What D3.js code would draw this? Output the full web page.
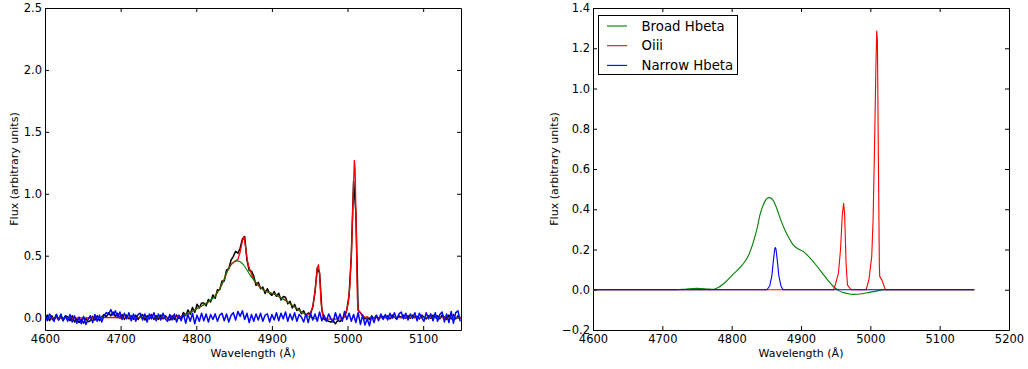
<!DOCTYPE html>
<meta charset="utf-8">
<style>
	body { margin: 0; background: #fff; }
	svg text { font-family: "DejaVu Sans", sans-serif; }
</style>
<svg width="1028" height="369"></svg>
<script src="https://d3js.org/d3.v7.min.js"></script>
<script>
	// sampling grid of the observed spectrum (Angstrom)
	var gridWave = d3.range(4600, 5150, 3);

	// left panel: observed flux (black) and residual (blue), one value per grid point
	var observed = [
		-0.01, 0.02, -0.025, 0.015, -0.015, 0.025, -0.02, 0.01, -0.025, 0.015,
		0.005, -0.025, 0.015, -0.035, -0.01, -0.04, -0.015, -0.045, -0.005, -0.035,
		-0.025, 0.01, -0.02, 0.015, -0.025, 0.005, 0.025, 0.005, 0.04, 0.015,
		0.045, 0.01, 0.035, -0.005, 0.025, -0.015, 0.02, -0.01, 0.015, -0.015,
		0.02, -0.015, 0.01, 0.025, -0.02, 0.015, -0.01, 0.025, -0.015, 0.015,
		-0.015, 0.02, -0.01, 0.015, -0.005, -0.02, 0.015, -0.015, 0.02, -0.005,
		-0.005, 0.042, 0.015, 0.062, 0.027, 0.082, 0.042, 0.108, 0.078, 0.118,
		0.119, 0.095, 0.147, 0.127, 0.183, 0.155, 0.225, 0.225, 0.295, 0.295,
		0.385, 0.395, 0.465, 0.495, 0.535, 0.52, 0.56, 0.635, 0.655, 0.465,
		0.38, 0.375, 0.335, 0.26, 0.285, 0.233, 0.247, 0.195, 0.233, 0.195,
		0.18, 0.21, 0.172, 0.197, 0.142, 0.17, 0.164, 0.111, 0.132, 0.078,
		0.107, 0.058, 0.075, 0.031, 0.055, 0.015, 0.037, 0.03, 0.085, 0.21,
		0.4, 0.36, 0.07, -0.015, -0.02, -0.03, -0.035, -0.028, -0.05, -0.022,
		-0.032, -0.012, 0.01, 0.06, 0.18, 0.5, 1.1, 0.85, 0.06, 0.04,
		0.01, -0.01, 0.005, -0.015, 0.01, -0.005, 0.015, -0.01, 0.005, 0.01,
		0.0, 0.015, -0.01, 0.02, 0.005, -0.01, 0.015, 0.0, 0.02, -0.005,
		0.015, -0.005, 0.02, 0.0, 0.01, -0.01, 0.02, 0.005, -0.01, 0.015,
		-0.005, 0.02, 0.0, 0.015, -0.01, 0.02, 0.005, -0.015, 0.02, -0.01,
		0.025, -0.01, 0.015, 0.0
	];
	var residual = [
		0.02, -0.025, 0.03, -0.01, -0.03, 0.025, -0.02, 0.03, -0.025, 0.015,
		-0.03, 0.025, -0.035, 0.015, -0.045, 0.005, -0.05, 0.01, -0.055, -0.015,
		0.015, -0.04, 0.025, -0.03, 0.02, -0.035, 0.015, 0.04, 0.025, 0.065,
		0.02, 0.055, 0.0, 0.045, -0.015, 0.035, -0.01, 0.04, -0.025, 0.03,
		-0.03, 0.025, 0.035, -0.02, 0.03, -0.035, 0.03, -0.01, 0.04, -0.025,
		0.03, -0.02, 0.035, -0.01, -0.03, 0.025, -0.02, 0.03, -0.035, 0.02,
		-0.025, 0.03, -0.045, 0.025, -0.03, 0.035, -0.05, 0.02, -0.03, 0.035,
		-0.025, 0.03, -0.035, 0.025, -0.015, 0.03, -0.03, 0.02, 0.035, -0.025,
		0.03, -0.035, 0.02, 0.04, -0.02, 0.05, 0.01, 0.055, -0.015, 0.035,
		-0.04, 0.025, -0.03, 0.03, -0.02, 0.035, -0.03, 0.02, 0.03, -0.035,
		0.025, -0.02, 0.04, -0.025, 0.035, -0.01, 0.045, -0.03, 0.03, -0.02,
		0.04, -0.03, 0.025, 0.005, -0.035, 0.03, -0.04, 0.035, -0.02, 0.03,
		-0.03, 0.045, -0.025, 0.02, -0.03, 0.03, -0.01, -0.035, 0.04, -0.02,
		0.03, -0.03, 0.05, -0.015, 0.035, -0.03, 0.025, -0.04, 0.04, -0.055,
		0.02, -0.06, -0.01, -0.065, 0.015, -0.04, 0.02, -0.025, 0.03, -0.015,
		0.025, -0.02, 0.035, -0.005, 0.04, -0.015, 0.03, 0.045, -0.01, 0.035,
		-0.02, 0.03, -0.005, 0.04, -0.025, 0.035, 0.0, -0.03, 0.04, -0.01,
		0.03, -0.025, 0.04, -0.03, 0.025, 0.045, -0.035, 0.03, -0.04, 0.05,
		-0.045, 0.04, 0.055, -0.03
	];

	// left panel: total fitted model (red)
	var totalWave = [4600, 4640, 4680, 4700, 4720, 4760, 4780, 4790, 4803, 4815, 4825, 4832, 4837, 4841, 4846, 4850,
		4855, 4858, 4861, 4863, 4865, 4867, 4869, 4871, 4874, 4877, 4883, 4889, 4896, 4904, 4911, 4918, 4925, 4933, 4940, 4945,
		4950, 4954, 4957, 4960, 4961.5, 4963, 4965, 4967, 4970, 4975, 4985, 4992, 4995, 4998, 5001, 5003, 5005, 5007, 5009, 5010,
		5011.5, 5013, 5014, 5017, 5022, 5030, 5150];
	var totalFlux = [0, -0.003, 0, 0.002, 0, 0, 0.01, 0.035, 0.08, 0.122, 0.175, 0.245, 0.31, 0.375, 0.43, 0.45,
		0.47, 0.53, 0.62, 0.656, 0.58, 0.48, 0.42, 0.387, 0.335, 0.296, 0.255, 0.222, 0.203, 0.188, 0.165, 0.139, 0.108, 0.073, 0.042, 0.025,
		0.03, 0.085, 0.21, 0.4, 0.427, 0.36, 0.12, 0.02, -0.005, -0.012, -0.012, -0.008, 0, 0.04, 0.12, 0.25, 0.5, 0.9, 1.27, 1.2,
		0.7, 0.15, 0.06, 0.04, 0.005, 0, 0];

	// fit components
	var broadWave = [4600, 4720, 4735, 4750, 4765, 4773, 4780, 4790, 4803, 4815, 4825, 4832, 4837, 4841, 4846, 4850, 4854, 4858, 4862, 4866,
		4871, 4877, 4883, 4889, 4896, 4904, 4911, 4918, 4925, 4933, 4940, 4947, 4954, 4961, 4968, 4976, 4985, 4995, 5008, 5021, 5150];
	var broadFlux = [0, 0, 0.004, 0.007, 0.004, 0.002, 0.01, 0.035, 0.08, 0.122, 0.175, 0.245, 0.31, 0.375, 0.425, 0.45, 0.458, 0.452, 0.43, 0.395,
		0.345, 0.296, 0.255, 0.222, 0.203, 0.188, 0.165, 0.139, 0.108, 0.073, 0.042, 0.015, -0.003, -0.014, -0.02, -0.023, -0.021, -0.015, -0.007, 0, 0];
	var oiiiWave = [4600, 4947, 4950, 4954, 4957, 4959.5, 4961.5, 4963, 4965, 4967, 4972.5, 4994, 4998, 5002, 5004, 5006, 5008, 5009.2, 5010.2, 5011.5,
		5013, 5013.6, 5016.8, 5021.6, 5150];
	var oiiiFlux = [0, 0, 0.03, 0.083, 0.2, 0.37, 0.429, 0.37, 0.13, 0.023, 0, 0, 0.05, 0.164, 0.35, 0.7, 1.1, 1.285, 1.24, 0.7,
		0.12, 0.065, 0.048, 0, 0];
	var narrowWave = [4600, 4851, 4855, 4858, 4860, 4862, 4863, 4864, 4866, 4868, 4871, 4874, 5150];
	var narrowFlux = [0, 0, 0.02, 0.07, 0.14, 0.2, 0.21, 0.2, 0.14, 0.07, 0.02, 0, 0];

	var legendNames = ["Broad Hbeta", "Oiii", "Narrow Hbeta"];
	var legendColors = ["#008000", "#ff0000", "#0000ff"];

	var leftXTicks = [4600, 4700, 4800, 4900, 5000, 5100];
	var leftYTicks = [0, 0.5, 1.0, 1.5, 2.0, 2.5];
	var rightXTicks = [4600, 4700, 4800, 4900, 5000, 5100, 5200];
	var rightYTicks = [-0.2, 0, 0.2, 0.4, 0.6, 0.8, 1.0, 1.2, 1.4];

	var svg = d3.select("svg"),
		plotW = 416,
		plotTop = 8,
		plotBottom = 330;

	function drawPanel(id, left, xDomain, yDomain, xTicks, yTicks, yLabelX) {
		var g = svg.append("g").attr("transform", "translate(" + left + ",0)");
		var x = d3.scaleLinear().domain(xDomain).range([0, plotW]);
		var y = d3.scaleLinear().domain(yDomain).range([plotBottom, plotTop]);

		g.append("clipPath").attr("id", id).append("rect")
			.attr("x", 0).attr("y", plotTop).attr("width", plotW).attr("height", plotBottom - plotTop);

		var axes = [
			[d3.axisBottom(x).tickValues(xTicks).tickFormat(d3.format("d")).tickPadding(5), "translate(0," + plotBottom + ")"],
			[d3.axisTop(x).tickValues(xTicks).tickFormat(""), "translate(0," + plotTop + ")"],
			[d3.axisLeft(y).tickValues(yTicks).tickFormat(d3.format(".1f")).tickPadding(3), "translate(0,0)"],
			[d3.axisRight(y).tickValues(yTicks).tickFormat(""), "translate(" + plotW + ",0)"]
		];
		axes.forEach(function(a) {
			var ax = g.append("g").attr("class", "axis").attr("transform", a[1])
				.call(a[0].tickSizeInner(-4).tickSizeOuter(0));
			ax.attr("font-size", 11.5).attr("font-family", "DejaVu Sans, sans-serif");
			ax.selectAll("text").attr("fill", "#000");
			ax.selectAll("line, path").attr("stroke", "#000");
		});

		g.append("text").attr("text-anchor", "middle").attr("font-size", 11)
			.attr("x", plotW / 2).attr("y", 357).text("Wavelength (\u00c5)");
		g.append("text").attr("text-anchor", "middle").attr("font-size", 11)
			.attr("transform", "translate(" + yLabelX + "," + (plotTop + plotBottom) / 2 + ") rotate(-90)")
			.text("Flux (arbitrary units)");

		var plot = g.append("g").attr("clip-path", "url(#" + id + ")");
		return { g: g, plot: plot, x: x, y: y };
	}

	function addLine(p, wave, flux, color, width, curve) {
		var line = d3.line().x(function(d) { return p.x(d[0]); }).y(function(d) { return p.y(d[1]); })
			.curve(curve || d3.curveLinear);
		p.plot.append("path").datum(d3.zip(wave, flux))
			.attr("fill", "none").attr("stroke", color).attr("stroke-width", width)
			.attr("stroke-linejoin", "round").attr("d", line);
	}

	// left panel: data, total fit, broad component, residual
	var L = drawPanel("clipL", 45, [4600, 5150], [-0.1, 2.5], leftXTicks, leftYTicks, -27);
	addLine(L, gridWave, observed, "#000", 1.5);
	addLine(L, totalWave, totalFlux, "#ff0000", 1.3);
	var broadLeft = d3.zip(broadWave, broadFlux).filter(function(d) { return d[0] >= 4780 && d[0] <= 4961; });
	addLine(L, broadLeft.map(function(d) { return d[0]; }), broadLeft.map(function(d) { return d[1]; }), "#008000", 1.1, d3.curveMonotoneX);
	addLine(L, gridWave, residual, "#0000ff", 1.5);

	// right panel: individual components
	var R = drawPanel("clipR", 593, [4600, 5200], [-0.2, 1.4], rightXTicks, rightYTicks, -35);
	addLine(R, broadWave, broadFlux, legendColors[0], 1.1, d3.curveMonotoneX);
	addLine(R, oiiiWave, oiiiFlux, legendColors[1], 1.1);
	addLine(R, narrowWave, narrowFlux, legendColors[2], 1.1);

	var legend = R.g.append("g").attr("transform", "translate(5.5,15.5)");
	legend.append("rect").attr("width", 139).attr("height", 59)
		.attr("fill", "#fff").attr("stroke", "#000").attr("stroke-width", 1);
	var item = legend.selectAll("g.item").data(legendNames).enter().append("g")
		.attr("class", "item")
		.attr("transform", function(d, i) { return "translate(0," + (10.5 + i * 19.7) + ")"; });
	item.append("line").attr("x1", 8.5).attr("x2", 28.5)
		.attr("stroke", function(d, i) { return legendColors[i]; }).attr("stroke-width", 1.1);
	item.append("text").attr("x", 43).attr("dy", "0.36em").attr("font-size", 13.3).text(function(d) { return d; });
</script>
